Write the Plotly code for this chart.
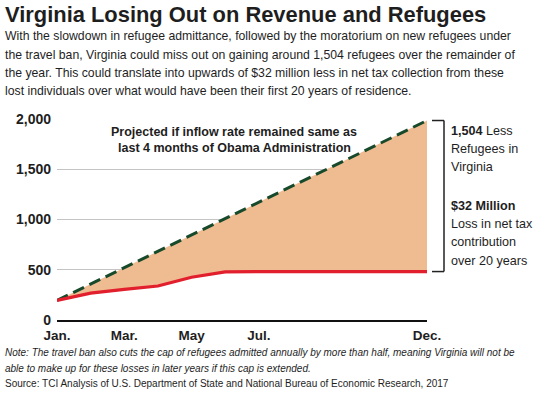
import plotly.graph_objects as go

# ---- data ----
month_labels = ["Jan.", "Feb.", "Mar.", "Apr.", "May", "Jun.", "Jul.", "Aug.", "Sep.", "Oct.", "Nov.", "Dec."]
month_index = list(range(12))
actual_refugees = [195, 268, 305, 338, 425, 478, 482, 482, 482, 482, 482, 482]
projected_months = [0, 11]
projected_refugees = [195, 1985]
tick_months = [0, 2, 4, 6, 11]
tick_labels = ["Jan.", "Mar.", "May", "Jul.", "Dec."]
y_ticks = [0, 500, 1000, 1500, 2000]

title_text = "Virginia Losing Out on Revenue and Refugees"
subtitle_lines = [
    "With the slowdown in refugee admittance, followed by the moratorium on new refugees under",
    "the travel ban, Virginia could miss out on gaining around 1,504 refugees over the remainder of",
    "the year. This could translate into upwards of $32 million less in net tax collection from these",
    "lost individuals over what would have been their first 20 years of residence.",
]
inner_lines = [
    "Projected if inflow rate remained same as",
    "last 4 months of Obama Administration",
]
right_lines = [
    "<b>1,504</b> Less", "Refugees in", "Virginia",
    "<b>$32 Million</b>", "Loss in net tax", "contribution", "over 20 years",
]
note_lines = [
    "<i>Note: The travel ban also cuts the cap of refugees admitted annually by more than half, meaning Virginia will not be</i>",
    "<i>able to make up for these losses in later years if this cap is extended.</i>",
    "Source: TCI Analysis of U.S. Department of State and National Bureau of Economic Research, 2017",
]

# ---- geometry helpers (pixel -> paper) ----
W, H = 540, 394
L, R, T, B = 57, 427, 119, 320


def px(x):
    return (x - L) / (R - L)


def py(y):
    return (B - y) / (B - T)


FONT = "Liberation Sans, Arial, Helvetica, sans-serif"
TXT = "#1e1e1e"
PEACH = "#EFBB90"
RED = "#E21F2D"
GREEN = "#17492B"

fig = go.Figure()

# base (actual) for the fill
fig.add_trace(go.Scatter(x=month_index, y=actual_refugees, mode="lines",
                         line=dict(color=RED, width=0), hoverinfo="skip", showlegend=False))
# projected with fill down to actual
fig.add_trace(go.Scatter(x=projected_months, y=projected_refugees, mode="lines",
                         fill="tonexty", fillcolor=PEACH,
                         line=dict(color=GREEN, width=3, dash="12px,6px"), showlegend=False))
# actual line on top
fig.add_trace(go.Scatter(x=month_index, y=actual_refugees, mode="lines",
                         line=dict(color=RED, width=3.2), showlegend=False))

annotations = []


def add_line(text, x, baseline, size, xanchor="left", bold=False):
    t = f"<b>{text}</b>" if bold else text
    annotations.append(dict(x=px(x), y=py(baseline - 0.35 * size), xref="paper", yref="paper",
                            xanchor=xanchor, yanchor="middle", text=t, showarrow=False,
                            borderpad=0,
                            font=dict(family=FONT, size=size, color=TXT)))


add_line(title_text, 4, 21.7, 21.9, bold=True)
for i, s in enumerate(subtitle_lines):
    add_line(s, 4, 40.7 + i * 18.2, 12.25)
for i, s in enumerate(inner_lines):
    add_line(s, 234, 136 + i * 16.7, 12.5, xanchor="center", bold=True)
right_baselines = [135, 153.3, 171.5, 210, 228.5, 246.8, 265]
for s, b in zip(right_lines, right_baselines):
    add_line(s, 450, b, 12.6)
note_baselines = [356, 371.5, 387]
for s, b in zip(note_lines, note_baselines):
    add_line(s, 4, b, 10)

shapes = [
    dict(type="line", xref="paper", yref="y", x0=px(432), x1=px(444),
         y0=projected_refugees[-1], y1=projected_refugees[-1], line=dict(color="#222", width=1.5)),
    dict(type="line", xref="paper", yref="y", x0=px(444), x1=px(444),
         y0=projected_refugees[-1], y1=actual_refugees[-1], line=dict(color="#222", width=1.5)),
    dict(type="line", xref="paper", yref="y", x0=px(432), x1=px(444),
         y0=actual_refugees[-1], y1=actual_refugees[-1], line=dict(color="#222", width=1.5)),
]

fig.update_layout(
    width=W, height=H,
    margin=dict(l=L, r=W - R, t=T, b=H - B, pad=0),
    paper_bgcolor="white", plot_bgcolor="white",
    annotations=annotations, shapes=shapes,
    xaxis=dict(range=[0, 11], tickvals=tick_months, ticktext=tick_labels,
               showgrid=False, zeroline=False, showline=True, linecolor="#111", linewidth=2,
               ticks="", ticklabelstandoff=2,
               tickfont=dict(family=FONT, size=13.5, color=TXT, weight="bold"), fixedrange=True),
    yaxis=dict(range=[0, 2000], tickvals=y_ticks, tickformat=",",
               showgrid=True, gridcolor="#C4C4C4", gridwidth=1, zeroline=False, showline=False,
               ticks="", ticklabelstandoff=5,
               tickfont=dict(family=FONT, size=14, color=TXT, weight="bold"), fixedrange=True),
    showlegend=False,
)

fig.write_html("out.html", config={"displayModeBar": False})

# remove the browser's default 8px body margin so the figure sits at the window origin
with open("out.html", "r", encoding="utf-8") as f:
    html = f.read()
html = html.replace("<body>", "<body style=\"margin:0;padding:0;overflow:hidden\">", 1)
with open("out.html", "w", encoding="utf-8") as f:
    f.write(html)
